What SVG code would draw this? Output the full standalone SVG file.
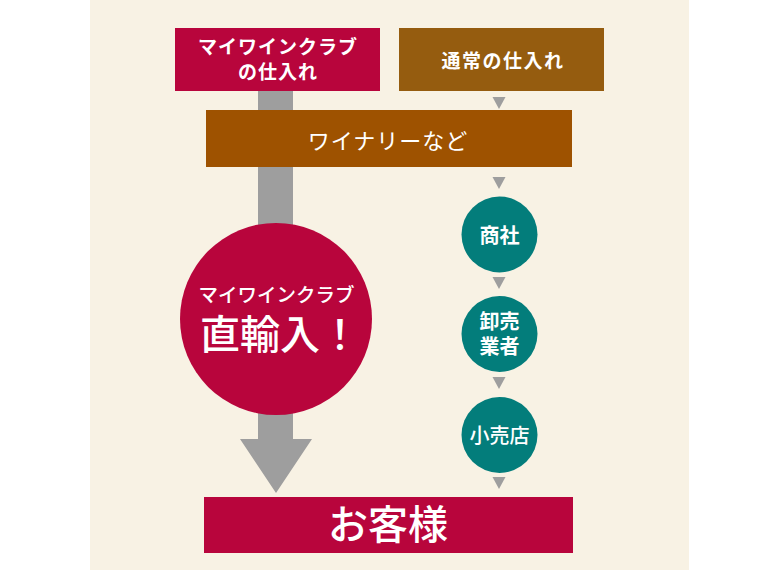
<svg xmlns="http://www.w3.org/2000/svg" width="760" height="570" viewBox="0 0 760 570">
<style>
.t{font-family:"Noto Sans CJK JP","Noto Sans",sans-serif;fill:#fff;text-anchor:middle}
.b{font-weight:bold}
.m{font-weight:500}
.tri{fill:#9e9e9e}
.teal{fill:#037d7b}
</style>
<defs>
<polygon id="tri" points="-6.5,0 6.5,0 0,12" class="tri"/>
</defs>
<rect x="0" y="0" width="760" height="570" fill="#fff"/>
<rect x="90" y="0" width="599" height="570" fill="#f8f2e4"/>
<g id="connectors">
<polygon points="258,91 293,91 293,439 312,439 276,493 240,439 258,439" fill="#9e9e9e"/>
<use href="#tri" x="499" y="97"/>
<use href="#tri" x="499" y="177"/>
<use href="#tri" x="499" y="277"/>
<use href="#tri" x="499" y="377"/>
<use href="#tri" x="499" y="477"/>
</g>
<g id="myclub">
<rect x="175" y="28" width="205" height="63" fill="#b8053c"/>
<text class="t b" x="278" y="54" font-size="19" letter-spacing="1">マイワインクラブ</text>
<text class="t b" x="278" y="79" font-size="19" letter-spacing="1">の仕入れ</text>
</g>
<g id="normal">
<rect x="399" y="28" width="205" height="63" fill="#955c0f"/>
<text class="t b" x="503" y="68" font-size="19" letter-spacing="1.5">通常の仕入れ</text>
</g>
<g id="winery">
<rect x="206" y="110" width="366" height="57" fill="#9e5200"/>
<text class="t" x="388" y="148.5" font-size="22" letter-spacing="1">ワイナリーなど</text>
</g>
<g id="direct">
<circle cx="276" cy="319" r="96" fill="#b8053c"/>
<text class="t m" x="276.5" y="302" font-size="19.5">マイワインクラブ</text>
<text class="t m" x="280" y="349" font-size="40">直輸入！</text>
</g>
<g id="trading">
<circle class="teal" cx="499.5" cy="234.5" r="38"/>
<text class="t b" x="499.5" y="242.5" font-size="20">商社</text>
</g>
<g id="wholesale">
<circle class="teal" cx="499.5" cy="334" r="38"/>
<text class="t b" x="499.5" y="329" font-size="20">卸売</text>
<text class="t b" x="499.5" y="354" font-size="20">業者</text>
</g>
<g id="retail">
<circle class="teal" cx="499.5" cy="435" r="38"/>
<text class="t m" x="499.5" y="442.5" font-size="20">小売店</text>
</g>
<g id="customer">
<rect x="204" y="497" width="369" height="56" fill="#b8053c"/>
<text class="t m" x="388" y="539" font-size="40">お客様</text>
</g>
</svg>
